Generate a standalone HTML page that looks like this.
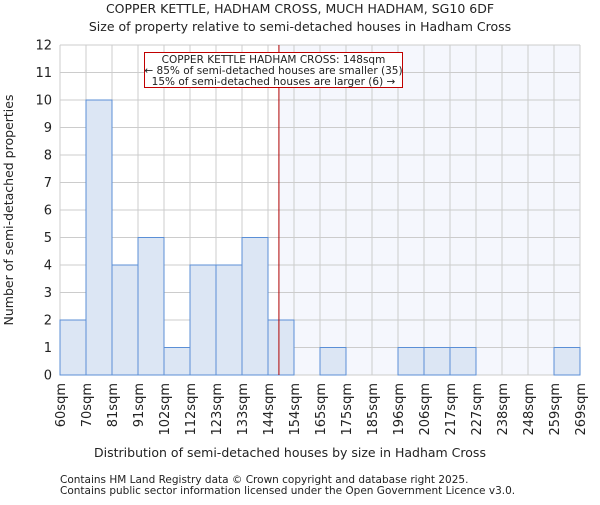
<!DOCTYPE html>
<html><head><meta charset="utf-8"><style>
body{margin:0;background:#fff;}
svg text{font-family:"DejaVu Sans","Liberation Sans",sans-serif;fill:#222;}
</style></head><body>
<svg id="chart" width="600" height="500" xmlns="http://www.w3.org/2000/svg">
<text x="300" y="13" font-size="12.5" text-anchor="middle">COPPER KETTLE, HADHAM CROSS, MUCH HADHAM, SG10 6DF</text>
<text x="300" y="31" font-size="12.5" text-anchor="middle">Size of property relative to semi-detached houses in Hadham Cross</text>
<g id="plot"></g>
<text x="290" y="457" font-size="12.5" text-anchor="middle">Distribution of semi-detached houses by size in Hadham Cross</text>
<text transform="translate(13,210) rotate(-90)" font-size="12.5" text-anchor="middle">Number of semi-detached properties</text>
<text x="60" y="483" font-size="10.5">Contains HM Land Registry data © Crown copyright and database right 2025.</text>
<text x="60" y="494" font-size="10.5">Contains public sector information licensed under the Open Government Licence v3.0.</text>
</svg>
<script>
const binLabels=["60sqm","70sqm","81sqm","91sqm","102sqm","112sqm","123sqm","133sqm","144sqm","154sqm","165sqm","175sqm","185sqm","196sqm","206sqm","217sqm","227sqm","238sqm","248sqm","259sqm","269sqm"];
const counts=[2,10,4,5,1,4,4,5,2,0,1,0,0,1,1,1,0,0,0,1];
const yTicks=[0,1,2,3,4,5,6,7,8,9,10,11,12];
const markerBin=8.42;
const NS="http://www.w3.org/2000/svg";
const L=60,R=580,T=45,B=375,yMax=12;
const bw=(R-L)/counts.length;
const x=i=>L+i*bw;
const y=v=>B-(v/yMax)*(B-T);
const g=document.getElementById('plot');
function mk(tag,a){const e=document.createElementNS(NS,tag);for(const k in a)e.setAttribute(k,a[k]);g.appendChild(e);return e;}
const mx=x(markerBin);
let e=mk('rect',{x:mx,y:T,width:R-mx,height:B-T,fill:'#f5f7fd'});


yTicks.forEach(t=>{
 let l=mk('line',{x1:L,x2:R,y1:y(t),y2:y(t),stroke:'#cccccc','stroke-width':1});
 
 
 let tx=mk('text',{x:L-8,y:y(t)+4.5,'font-size':13,'text-anchor':'end'});tx.textContent=t;
 
 
});
binLabels.forEach((lb,i)=>{
 let l=mk('line',{x1:x(i),x2:x(i),y1:T,y2:B,stroke:'#cccccc','stroke-width':1});
 
 
 let tx=mk('text',{'font-size':13,'text-anchor':'end',transform:`translate(${x(i)+5},${B+8}) rotate(-90)`});tx.textContent=lb;
 
 
});
counts.forEach((c,i)=>{
 if(c<=0)return;
 let r=mk('rect',{x:x(i),y:y(c),width:bw,height:B-y(c),fill:'#dce6f4',stroke:'#5b8fd6','stroke-width':1});
 
 
});
e=mk('line',{x1:mx,x2:mx,y1:T,y2:B,stroke:'#b00000','stroke-width':1});


e=mk('rect',{x:144.5,y:52.5,width:258,height:35,fill:'#fff',stroke:'#c00000','stroke-width':1});


["COPPER KETTLE HADHAM CROSS: 148sqm","← 85% of semi-detached houses are smaller (35)","15% of semi-detached houses are larger (6) →"].forEach((s,i)=>{
 let t=mk('text',{x:273.5,y:63+i*11,'font-size':10.5,'text-anchor':'middle'});t.textContent=s;
 
 
});
</script>
</body></html>
